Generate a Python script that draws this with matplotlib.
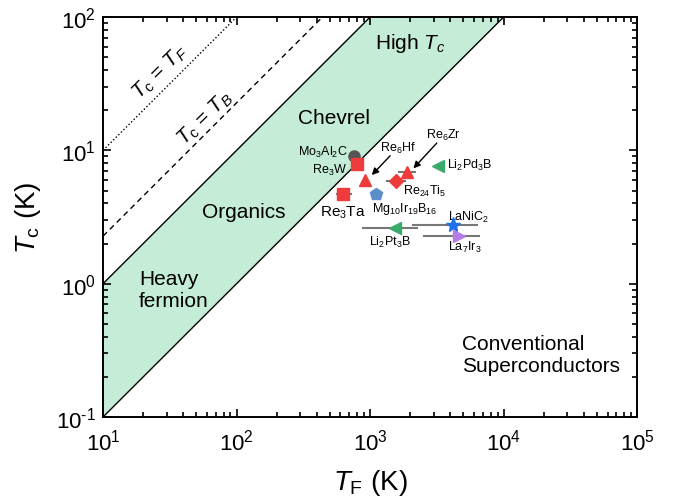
import numpy as np
import matplotlib
matplotlib.use('Agg')
import matplotlib.pyplot as plt
from matplotlib.ticker import FuncFormatter

plt.rcParams['font.family'] = ['Liberation Sans', 'DejaVu Sans']
plt.rcParams['mathtext.fontset'] = 'custom'
plt.rcParams['mathtext.rm'] = 'Liberation Sans'
plt.rcParams['mathtext.it'] = 'Liberation Sans:italic'
plt.rcParams['mathtext.bf'] = 'Liberation Sans:bold'
plt.rcParams['axes.unicode_minus'] = False

# Compounds (TF in K, Tc in K)
names = ['Mo$_3$Al$_2$C', 'Re$_3$W', 'Re$_6$Hf', 'Re$_6$Zr', 'Re$_{24}$Ti$_5$', 'Re$_3$Ta',
         'Mg$_{10}$Ir$_{19}$B$_{16}$', 'Li$_2$Pd$_3$B', 'Li$_2$Pt$_3$B', 'LaNiC$_2$', 'La$_7$Ir$_3$']
tf = [759, 795, 917, 1902, 1566, 631, 1104, 3214, 1539, 4207, 4641]
tc = [9.11, 7.85, 6.02, 6.91, 5.85, 4.70, 4.70, 7.66, 2.60, 2.75, 2.26]
tf_lo = [None, None, None, 1649, 1334, 564, None, None, 891, 2110, 2537]
tf_hi = [None, None, None, 2173, 1829, 717, None, None, 2239, 6298, 6590]
markers = ['o', 's', '^', '^', 'D', 's', 'p', '<', '<', '*', '>']
colors = ['#555555', '#ee3b3b', '#ee3b3b', '#ee3b3b', '#ee3b3b', '#ee3b3b',
          '#5b8fc9', '#3aaa6a', '#3aaa6a', '#1f6fe8', '#b57be6']
sizes = [8, 8, 9, 9, 7.5, 9, 9, 9, 9, 11, 9]

# label positions (TF, Tc) and alignment
lab_x = [684, 669, 1630, 3540, 1758, 625, 1829, 3793, 1413, 5450, 5086]
lab_y = [9.88, 7.24, 10.5, 13.2, 4.98, 3.46, 3.67, 7.89, 2.08, 3.20, 1.89]
lab_ha = ['right', 'right', 'center', 'center', 'left', 'center', 'center', 'left',
          'center', 'center', 'center']
lab_size = [9, 9, 9, 9, 9, 11, 9, 9, 9, 9, 9]

fig = plt.figure(figsize=(6.8, 5.02), dpi=100)
ax = fig.add_axes([0.1515, 0.1673, 0.7855, 0.7967])

x = np.logspace(1, 5, 200)
ax.fill_between(x, x / 100, x / 10, color='#c4ecd6', lw=0)
ax.plot(x, x / 10, color='black', lw=1)
ax.plot(x, x / 100, color='black', lw=1)
ax.plot(x, x / 4.4, color='black', lw=1, ls=(0, (4, 3)))
ax.plot(x, x, color='black', lw=1, ls=(0, (1, 1.6)))

for i in range(len(tf)):
    if tf_lo[i] is not None:
        ax.plot([tf_lo[i], tf_hi[i]], [tc[i], tc[i]], color='#777777', lw=1.5, zorder=3)
    ax.plot(tf[i], tc[i], marker=markers[i], color=colors[i], ms=sizes[i], ls='none', zorder=4)
    ax.text(lab_x[i], lab_y[i], names[i], fontsize=lab_size[i], ha=lab_ha[i], va='center')

# arrows for Re6Hf and Re6Zr
ax.annotate('', xy=(1030, 6.53), xytext=(1413, 9.11),
            arrowprops=dict(arrowstyle='-|>', color='black', lw=1, mutation_scale=10, shrinkA=0, shrinkB=0))
ax.annotate('', xy=(2110, 7.33), xytext=(3160, 11.35),
            arrowprops=dict(arrowstyle='-|>', color='black', lw=1, mutation_scale=10, shrinkA=0, shrinkB=0))

ax.set_xscale('log')
ax.set_yscale('log')
ax.set_xlim(10, 1e5)
ax.set_ylim(0.1, 100)

def pow_label(v, pos):
    e = int(round(np.log10(v)))
    s = '\\text{-}' + str(-e) if e < 0 else str(e)
    return '$\\mathdefault{10^{' + s + '}}$'

ax.xaxis.set_major_formatter(FuncFormatter(pow_label))
ax.yaxis.set_major_formatter(FuncFormatter(pow_label))

ax.tick_params(which='both', direction='in', top=True, right=True, labelsize=16, width=1.2)
ax.tick_params(which='major', length=6, pad=5)
ax.tick_params(which='minor', length=3.5)
ax.tick_params(axis='x', pad=8)
for s in ax.spines.values():
    s.set_linewidth(1.4)

ax.set_xlabel('$T_\\mathrm{F}$ (K)', fontsize=20, labelpad=9)
ax.set_ylabel('$T_\\mathrm{c}$ (K)', fontsize=20)
ax.yaxis.set_label_coords(-0.112, 0.501)

# region labels
ax.text(1995, 64.9, 'High $T_c$', fontsize=15, ha='center', va='center')
ax.text(537, 17.8, 'Chevrel', fontsize=15, ha='center', va='center')
ax.text(114, 3.5, 'Organics', fontsize=15, ha='center', va='center')
ax.text(18.6, 0.91, 'Heavy\nfermion', fontsize=15, ha='left', va='center', linespacing=1.2)
ax.text(4862, 0.296, 'Conventional\nSuperconductors', fontsize=15, ha='left', va='center',
        linespacing=1.2)

ax.text(26.7, 39.4, '$T_\\mathrm{c}$ = $T_F$', fontsize=15, rotation=44.5, ha='center', va='center')
ax.text(58.1, 17.8, '$T_\\mathrm{c}$ = $T_B$', fontsize=15, rotation=44.5, ha='center', va='center')

fig.savefig('out.png', dpi=100)
